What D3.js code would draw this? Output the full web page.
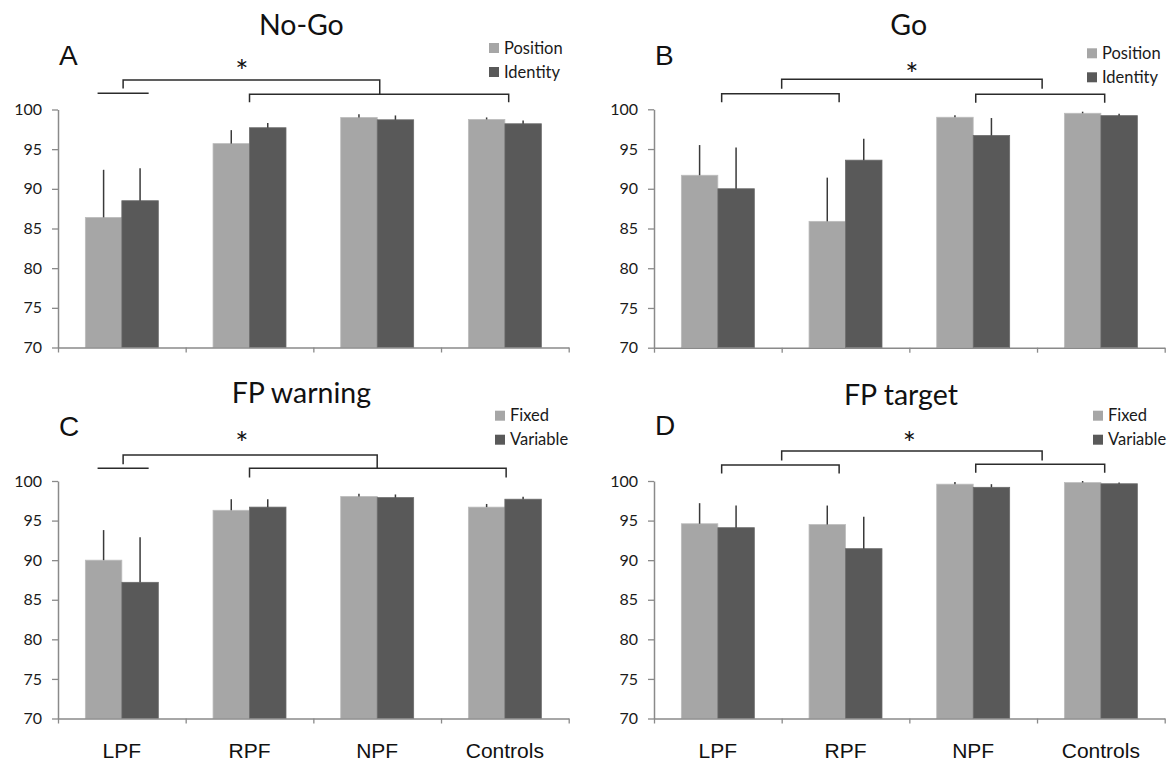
<!DOCTYPE html>
<html>
<head>
<meta charset="utf-8">
<script src="https://cdn.jsdelivr.net/npm/d3@7"></script>
<style>
  body { margin: 0; background: #fff; }
  svg { display: block; }
</style>
</head>
<body>
<div id="chart"></div>
<script>
// groups and y ticks
const groups = ["LPF", "RPF", "NPF", "Controls"];
const yTicks = [70, 75, 80, 85, 90, 95, 100];

// A - No-Go (mean, error = SD above the bar)
const noGoPosition = [86.4, 95.7, 99.0, 98.75];
const noGoPositionErr = [6.0, 1.7, 0.4, 0.25];
const noGoIdentity = [88.5, 97.7, 98.7, 98.2];
const noGoIdentityErr = [4.1, 0.6, 0.55, 0.4];

// B - Go
const goPosition = [91.7, 85.9, 99.0, 99.5];
const goPositionErr = [3.8, 5.5, 0.25, 0.2];
const goIdentity = [90.0, 93.6, 96.7, 99.2];
const goIdentityErr = [5.2, 2.7, 2.2, 0.25];

// C - FP warning
const warnFixed = [90.0, 96.3, 98.05, 96.7];
const warnFixedErr = [3.8, 1.4, 0.35, 0.4];
const warnVariable = [87.2, 96.7, 97.9, 97.7];
const warnVariableErr = [5.7, 1.0, 0.4, 0.3];

// D - FP target
const targetFixed = [94.6, 94.5, 99.6, 99.8];
const targetFixedErr = [2.6, 2.4, 0.26, 0.2];
const targetVariable = [94.1, 91.45, 99.2, 99.65];
const targetVariableErr = [2.8, 4.05, 0.4, 0.15];

const W = 1171, H = 761;
const light = "#a6a6a6", dark = "#595959";

const svg = d3.select("#chart").append("svg")
  .attr("width", W)
  .attr("height", H);

svg.append("rect").attr("width", W).attr("height", H).attr("fill", "#fff");

// brackets are in "category units" (0..4 along the x axis), y in px above the 100 line
const bracketsAC = (c) => c ? [
  { a: 0.31, b: 0.71, y: -12.7, flat: true },
  { a: 0.51, b: 2.50, y: -26, dropA: 9.3, dropB: 13.3 },
  { a: 1.50, b: 3.51, y: -12.7, dropA: 9.3, dropB: 9.3 }
] : [
  { a: 0.31, b: 0.71, y: -16.2, flat: true },
  { a: 0.51, b: 2.52, y: -29.5, dropA: 8.5, dropB: 14.3 },
  { a: 1.50, b: 3.53, y: -15.2, dropA: 8, dropB: 8 }
];
const bracketsBD = (d) => [
  { a: 0.53, b: 1.45, y: d ? -16 : -15.6, dropA: 8.6, dropB: 8.6 },
  { a: 1.00, b: 3.04, y: -30, dropA: 9.5, dropB: 9.5 },
  { a: 2.52, b: 3.53, y: d ? -16.7 : -15, dropA: 8.5, dropB: 8.5 }
];

const panels = [
  { letter: "A", title: "No-Go", x0: 58, yTop: 109.5, yBot: 347.5,
    names: ["Position", "Identity"],
    vals: [noGoPosition, noGoIdentity], errs: [noGoPositionErr, noGoIdentityErr],
    titleU: 1.906, titleDy: -74.5, letterDy: -44.5,
    legX: 431, legDy: -61.5, starU: 1.44, starDy: -44.5,
    brackets: bracketsAC(false), xlabels: false },
  { letter: "B", title: "Go", x0: 654, yTop: 109.3, yBot: 347.7,
    names: ["Position", "Identity"],
    vals: [goPosition, goIdentity], errs: [goPositionErr, goIdentityErr],
    titleU: 1.995, titleDy: -74.3, letterDy: -44.3,
    legX: 433, legDy: -56, starU: 2.02, starDy: -41.3,
    brackets: bracketsBD(false), xlabels: false },
  { letter: "C", title: "FP warning", x0: 58, yTop: 481, yBot: 718.5,
    names: ["Fixed", "Variable"],
    vals: [warnFixed, warnVariable], errs: [warnFixedErr, warnVariableErr],
    titleU: 1.906, titleDy: -77.7, letterDy: -45.3,
    legX: 437, legDy: -65.3, starU: 1.44, starDy: -44.3,
    brackets: bracketsAC(true), xlabels: true },
  { letter: "D", title: "FP target", x0: 654, yTop: 481, yBot: 718.5,
    names: ["Fixed", "Variable"],
    vals: [targetFixed, targetVariable], errs: [targetFixedErr, targetVariableErr],
    titleU: 1.934, titleDy: -76, letterDy: -46,
    legX: 439, legDy: -65.3, starU: 2.0, starDy: -44.3,
    brackets: bracketsBD(true), xlabels: true }
];

const axisWidth = 510.7;

panels.forEach(drawPanel);

function drawPanel(p) {
  const g = svg.append("g");

  const x = d3.scaleBand().domain(groups).range([p.x0, p.x0 + axisWidth]).padding(0);
  const xs = d3.scaleBand().domain([0, 1]).range([0, x.bandwidth()])
    .paddingInner(0).paddingOuter(0.75);
  const u = d3.scaleLinear().domain([0, 4]).range([p.x0, p.x0 + axisWidth]);
  const y = d3.scaleLinear().domain([70, 100]).range([p.yBot, p.yTop]);
  const top = y(100);

  // bars
  const rows = [];
  groups.forEach((grp, i) => {
    [0, 1].forEach(s => rows.push({ grp, s, v: p.vals[s][i], e: p.errs[s][i] }));
  });

  g.selectAll("rect.bar").data(rows).enter().append("rect")
    .attr("class", "bar")
    .attr("x", d => x(d.grp) + xs(d.s))
    .attr("y", d => y(d.v))
    .attr("width", xs.bandwidth())
    .attr("height", d => y(70) - y(d.v))
    .attr("fill", d => d.s === 0 ? light : dark)
    .attr("stroke", d => d.s === 0 ? "#bdbdbd" : "#6b6b6b")
    .attr("stroke-width", 0.8);

  // error bars (upper half only, no caps)
  g.selectAll("line.err").data(rows).enter().append("line")
    .attr("class", "err")
    .attr("x1", d => x(d.grp) + xs(d.s) + xs.bandwidth() / 2)
    .attr("x2", d => x(d.grp) + xs(d.s) + xs.bandwidth() / 2)
    .attr("y1", d => y(d.v))
    .attr("y2", d => y(d.v + d.e))
    .attr("stroke", "#3a3a3a")
    .attr("stroke-width", 1.5);

  // y axis
  const ya = g.append("g")
    .attr("transform", `translate(${p.x0},0)`)
    .call(d3.axisLeft(y).tickValues(yTicks).tickSize(6).tickSizeOuter(0).tickPadding(10));
  ya.select(".domain").attr("stroke", "#8a8a8a").attr("stroke-width", 1.5);
  ya.selectAll(".tick line").attr("stroke", "#8a8a8a").attr("stroke-width", 1.3);
  ya.selectAll(".tick text")
    .attr("font-family", "Lato, 'Open Sans', sans-serif")
    .attr("font-size", 16)
    .attr("fill", "#1a1a1a");

  // x axis: ticks at category boundaries
  const xa = g.append("g")
    .attr("transform", `translate(0,${y(70)})`)
    .call(d3.axisBottom(u).tickValues([0, 1, 2, 3, 4]).tickFormat("").tickSize(5).tickSizeOuter(0));
  xa.select(".domain").attr("stroke", "#8a8a8a").attr("stroke-width", 1.5);
  xa.selectAll(".tick line").attr("stroke", "#8a8a8a").attr("stroke-width", 1.3);

  if (p.xlabels) {
    g.selectAll("text.xl").data(groups).enter().append("text")
      .attr("class", "xl")
      .attr("x", d => x(d) + x.bandwidth() / 2)
      .attr("y", 757.5)
      .attr("text-anchor", "middle")
      .attr("font-family", "'Liberation Sans', Arial, sans-serif")
      .attr("font-size", 21)
      .attr("fill", "#111")
      .text(d => d);
  }

  // title + panel letter
  g.append("text")
    .attr("x", u(p.titleU))
    .attr("y", top + p.titleDy)
    .attr("text-anchor", "middle")
    .attr("font-family", "Lato, 'Open Sans', sans-serif")
    .attr("font-size", 28.5)
    .attr("fill", "#111")
    .text(p.title);

  g.append("text")
    .attr("x", p.x0 + 1)
    .attr("y", top + p.letterDy)
    .attr("font-family", "'Liberation Sans', Arial, sans-serif")
    .attr("font-size", 28)
    .attr("fill", "#111")
    .text(p.letter);

  // legend
  const leg = g.selectAll("g.leg").data(p.names).enter().append("g")
    .attr("class", "leg")
    .attr("transform", (d, i) => `translate(${p.x0 + p.legX},${top + p.legDy + i * 24})`);
  leg.append("rect")
    .attr("x", 0).attr("y", -5).attr("width", 10).attr("height", 10)
    .attr("fill", (d, i) => i === 0 ? light : dark);
  leg.append("text")
    .attr("x", 15).attr("y", 5.5)
    .attr("font-family", "Lato, 'Open Sans', sans-serif")
    .attr("font-size", 16.5)
    .attr("fill", "#1a1a1a")
    .text(d => d);

  // significance brackets
  const bp = g.append("g").attr("fill", "none").attr("stroke", "#2b2b2b").attr("stroke-width", 1.5);
  p.brackets.forEach(b => {
    const yy = top + b.y;
    let d;
    if (b.flat) {
      d = `M${u(b.a)},${yy}H${u(b.b)}`;
    } else {
      d = `M${u(b.a)},${yy + b.dropA}V${yy}H${u(b.b)}V${yy + b.dropB}`;
    }
    bp.append("path").attr("d", d);
  });

  g.append("text")
    .attr("x", u(p.starU))
    .attr("y", top + p.starDy + 17)
    .attr("text-anchor", "middle")
    .attr("font-family", "Lato, 'Open Sans', sans-serif")
    .attr("font-size", 31)
    .attr("fill", "#111")
    .text("*");
}
</script>
</body>
</html>
